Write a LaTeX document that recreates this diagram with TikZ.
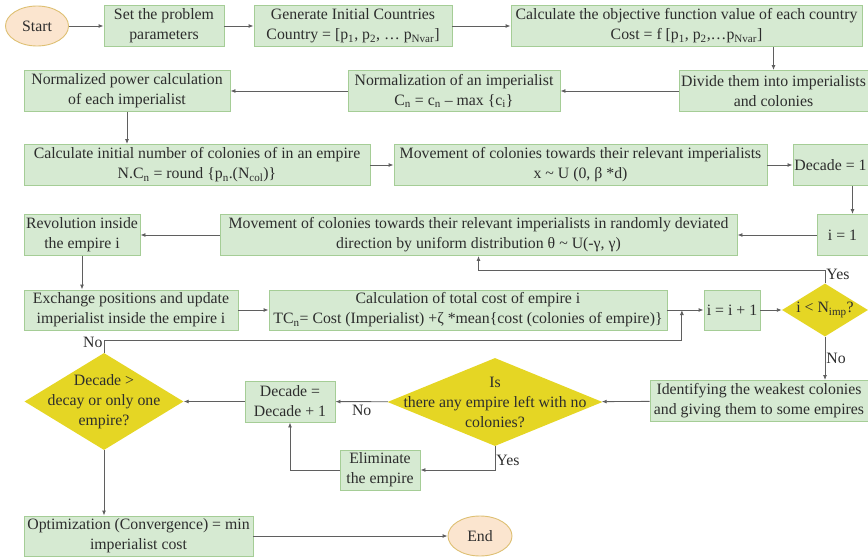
\documentclass[tikz,border=0pt]{standalone}
\usepackage{fontspec}
\setmainfont{Liberation Serif}
\usepackage{tikz}
\usetikzlibrary{shapes.geometric, arrows.meta, positioning, calc}
\definecolor{boxfill}{RGB}{214,234,210}
\definecolor{boxline}{RGB}{165,205,150}
\definecolor{decfill}{RGB}{229,214,36}
\definecolor{termfill}{RGB}{251,229,207}
\definecolor{termline}{RGB}{222,192,115}
\definecolor{lncol}{RGB}{95,95,95}
\definecolor{txtcol}{RGB}{45,45,45}
\begin{document}
\begin{tikzpicture}[
    x=1pt, y=-1pt,
    every node/.style={font=\fontsize{15.8}{20}\selectfont, text=txtcol},
    proc/.style={rectangle, draw=boxline, fill=boxfill, line width=0.9pt, align=center, inner sep=1.5pt, minimum height=41pt},
    term/.style={ellipse, draw=termline, fill=termfill, line width=0.9pt, inner sep=0pt, minimum width=63pt, minimum height=40pt},
    dec/.style={diamond, fill=decfill, inner sep=0pt},
    dtext/.style={align=center, font=\fontsize{15.8}{20}\selectfont, text=txtcol},
    arr/.style={-{Latex[length=5pt,width=4pt]}, draw=lncol, line width=0.9pt},
    lbl/.style={font=\fontsize{15.8}{17}\selectfont, inner sep=1pt}
]
\useasboundingbox (0,0) rectangle (868,559);
\node[term] (start) at (37,26) {Start};
\node[proc, minimum width=120pt] (set) at (164,26) {Set the problem\\parameters};
\node[proc, minimum width=198pt] (gen) at (353,26) {Generate Initial Countries\\Country = [p\textsubscript{1}, p\textsubscript{2}, \dots\ p\textsubscript{Nvar}]};
\node[proc, minimum width=351pt] (obj) at (686.5,26) {Calculate the objective function value of each country\\Cost = f [p\textsubscript{1}, p\textsubscript{2},\dots p\textsubscript{Nvar}]};
\node[proc, minimum width=189pt] (div) at (773.5,91) {Divide them into imperialists\\and colonies};
\node[proc, minimum width=212pt] (norm) at (454,91) {Normalization of an imperialist\\C\textsubscript{n} = c\textsubscript{n} -- max \{c\textsubscript{i}\}};
\node[proc, minimum width=206pt] (pow) at (127,91) {Normalized power calculation\\of each imperialist};
\node[proc, minimum width=346pt] (init) at (197,165) {Calculate initial number of colonies of in an empire\\N.C\textsubscript{n} = round \{p\textsubscript{n}.(N\textsubscript{col})\}};
\node[proc, minimum width=373pt] (mov1) at (580.5,165) {Movement of colonies towards their relevant imperialists\\x \textasciitilde\ U (0, β *d)};
\node[proc, minimum width=75pt] (dec1) at (830.5,165) {Decade = 1};
\node[proc, minimum width=51pt] (i1) at (842.5,235) {i = 1};
\node[proc, minimum width=517pt] (mov2) at (478.5,235) {Movement of colonies towards their relevant imperialists in randomly deviated\\direction by uniform distribution θ \textasciitilde\ U(-γ, γ)};
\node[proc, minimum width=116pt] (rev) at (82,235) {Revolution inside\\the empire i};
\node[proc, minimum width=214pt, minimum height=40pt] (exch) at (131,310) {Exchange positions and update\\imperialist inside the empire i};
\node[proc, minimum width=398pt, minimum height=40pt] (tc) at (468,310) {Calculation of total cost of empire i\\TC\textsubscript{n}= Cost (Imperialist) +ζ *mean\{cost (colonies of empire)\}};
\node[proc, minimum width=56pt, minimum height=40pt] (inc) at (732,310) {i = i + 1};
\node[dec, minimum width=86pt, minimum height=53pt, label={[dtext]center:i < N\textsubscript{imp}?}] (q1) at (825,310) {};
\node[proc, minimum width=218pt] (ident) at (759,401) {Identifying the weakest colonies\\and giving them to some empires};
\node[dec, minimum width=215pt, minimum height=88pt, label={[dtext]center:Is\\there any empire left with no\\colonies?}] (q2) at (495,402) {};
\node[proc, minimum width=90pt] (dec2) at (290,401.5) {Decade =\\Decade + 1};
\node[proc, minimum width=80pt, minimum height=40pt] (elim) at (380,470) {Eliminate\\the empire};
\node[dec, minimum width=159pt, minimum height=97pt, label={[dtext]center:Decade >\\decay or only one\\empire?}] (dq) at (104,401.5) {};
\node[proc, minimum width=229pt, minimum height=40pt] (opt) at (138.5,536) {Optimization (Convergence) = min\\imperialist cost};
\node[term, minimum width=64pt] (end) at (480,536) {End};
\coordinate (jn) at ($(tc.east)!0.4!(inc.west)$);
\draw[arr] (start) -- (set);
\draw[arr] (set) -- (gen);
\draw[arr] (gen) -- (obj);
\draw[arr] (obj.south -| div.north) -- (div.north);
\draw[arr] (div) -- (norm);
\draw[arr] (norm) -- (pow);
\draw[arr] (pow.south) -- (pow.south |- init.north);
\draw[arr] (init) -- (mov1);
\draw[arr] (mov1) -- (dec1);
\draw[arr] ([xshift=10pt]i1.north |- dec1.south) -- ([xshift=10pt]i1.north);
\draw[arr] (i1) -- (mov2);
\draw[arr] (mov2) -- (rev);
\draw[arr] (rev.south) -- (rev.south |- exch.north);
\draw[arr] (exch) -- (tc);
\draw[arr] (tc) -- (inc);
\draw[arr] (inc) -- (q1);
\draw[arr] (q1.north) -- ++(0,-13) node[lbl, anchor=south west, pos=0.2] {Yes} -| (mov2.south);
\draw[arr] (q1.south) -- node[lbl, right] {No} (ident.north -| q1.south);
\draw[arr] (ident) -- (q2);
\draw[arr] (q2) -- node[lbl, below=2pt] {No} (dec2);
\draw[arr] (q2.south) |- node[lbl, pos=0.3, right] {Yes} (elim.east);
\draw[arr] (elim.west) -| (dec2.south);
\draw[arr] (dec2) -- (dq);
\draw[arr] (dq.north) -- ++(0,-12) node[lbl, anchor=south east, pos=0.3] {No} -| (jn);
\draw[arr] (dq.south) -- (dq.south |- opt.north);
\draw[arr] (opt) -- (end);
\end{tikzpicture}
\end{document}
